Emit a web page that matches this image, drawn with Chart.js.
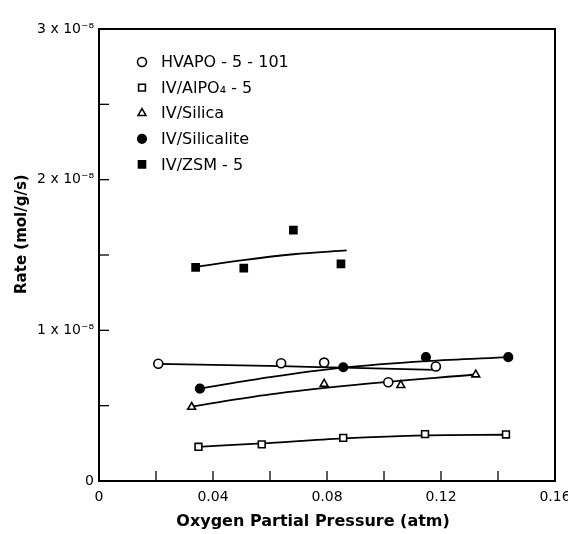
<!DOCTYPE html>
<html>
<head>
<meta charset="utf-8">
<script src="https://cdn.jsdelivr.net/npm/chart.js@4.4.1/dist/chart.umd.min.js"></script>
<style>
  html, body { margin: 0; padding: 0; background: #fff; }
  #wrap { width: 568px; height: 534px; }
</style>
</head>
<body>
<div id="wrap"><canvas id="c" width="568" height="534"></canvas></div>
<script>
// ---- data (rate in units of 10^-8 mol/g/s, pressure in atm) ----
const seriesNames = ['HVAPO - 5 - 101', 'IV/AlPO\u2084 - 5', 'IV/Silica', 'IV/Silicalite', 'IV/ZSM - 5'];

const hvapoX = [0.0208, 0.0639, 0.079, 0.1015, 0.1182];
const hvapoY = [0.778, 0.782, 0.786, 0.655, 0.760];
const alpoX = [0.0349, 0.0571, 0.0857, 0.1144, 0.1428];
const alpoY = [0.227, 0.243, 0.286, 0.311, 0.309];
const silicaX = [0.0325, 0.079, 0.1059, 0.1322];
const silicaY = [0.491, 0.644, 0.636, 0.706];
const silicaliteX = [0.0354, 0.0857, 0.1147, 0.1436];
const silicaliteY = [0.613, 0.755, 0.822, 0.822];
const zsmX = [0.0339, 0.0508, 0.0682, 0.0849];
const zsmY = [1.418, 1.413, 1.665, 1.441];

// hand-drawn trend curves
const hvapoFitX = [0.0208, 0.064, 0.0857, 0.118];
const hvapoFitY = [0.778, 0.762, 0.752, 0.738];
const alpoFitX = [0.0349, 0.0571, 0.0857, 0.1144, 0.1428];
const alpoFitY = [0.227, 0.250, 0.283, 0.303, 0.307];
const silicaFitX = [0.0325, 0.06, 0.09, 0.132];
const silicaFitY = [0.495, 0.575, 0.638, 0.707];
const silicaliteFitX = [0.0354, 0.06, 0.0857, 0.115, 0.1436];
const silicaliteFitY = [0.613, 0.689, 0.752, 0.795, 0.822];
const zsmFitX = [0.0339, 0.0506, 0.0682, 0.0869];
const zsmFitY = [1.421, 1.466, 1.505, 1.531];

const xTickLabels = ['0', '0.04', '0.08', '0.12', '0.16'];
const yTickLabels = ['0', '1 x 10\u207B\u2078', '2 x 10\u207B\u2078', '3 x 10\u207B\u2078'];

// ---- helpers ----
const pts = (xs, ys) => xs.map((x, i) => ({ x: x, y: ys[i] }));
const FONT = "'DejaVu Sans', sans-serif";

function markerSet(label, xs, ys, style, filled, radius) {
  return {
    type: 'scatter', label: label, data: pts(xs, ys), showLine: false,
    pointStyle: style, pointRadius: radius, pointHoverRadius: radius,
    backgroundColor: filled ? '#000' : '#fff', borderColor: '#000',
    pointBorderWidth: 1.6, order: 0, isLegend: true
  };
}
function fitSet(xs, ys) {
  return {
    type: 'line', data: pts(xs, ys), showLine: true, pointRadius: 0,
    borderColor: '#000', borderWidth: 1.8, fill: false,
    cubicInterpolationMode: 'monotone', order: 1, isLegend: false
  };
}

const datasets = [
  markerSet(seriesNames[0], hvapoX, hvapoY, 'circle', false, 4.5),
  markerSet(seriesNames[1], alpoX, alpoY, 'rect', false, 4.8),
  markerSet(seriesNames[2], silicaX, silicaY, 'triangle', false, 4.5),
  markerSet(seriesNames[3], silicaliteX, silicaliteY, 'circle', true, 4.3),
  markerSet(seriesNames[4], zsmX, zsmY, 'rect', true, 5),
  fitSet(hvapoFitX, hvapoFitY),
  fitSet(alpoFitX, alpoFitY),
  fitSet(silicaFitX, silicaFitY),
  fitSet(silicaliteFitX, silicaliteFitY),
  fitSet(zsmFitX, zsmFitY)
];

// frame, inward ticks and in-plot legend
const framePlugin = {
  id: 'frame',
  afterDraw(chart) {
    const ctx = chart.ctx, a = chart.chartArea;
    ctx.save();
    ctx.strokeStyle = '#000';
    ctx.lineWidth = 2;
    ctx.strokeRect(a.left, a.top, a.right - a.left, a.bottom - a.top);
    ctx.lineWidth = 1.3;
    const xs = chart.scales.x, ys = chart.scales.y;
    xs.ticks.forEach(t => {
      const p = xs.getPixelForValue(t.value);
      if (p <= a.left + 1 || p >= a.right - 1) return;
      ctx.beginPath(); ctx.moveTo(p, a.bottom); ctx.lineTo(p, a.bottom - 10); ctx.stroke();
    });
    ys.ticks.forEach(t => {
      const p = ys.getPixelForValue(t.value);
      if (p >= a.bottom - 1 || p <= a.top + 1) return;
      ctx.beginPath(); ctx.moveTo(a.left, p); ctx.lineTo(a.left + 10, p); ctx.stroke();
    });
    // legend
    let i = 0;
    chart.data.datasets.forEach(ds => {
      if (!ds.isLegend) return;
      const y = a.top + 33 + i * 25.6;
      const x = a.left + 43;
      ctx.fillStyle = ds.backgroundColor;
      ctx.strokeStyle = '#000';
      ctx.lineWidth = 1.6;
      Chart.helpers.drawPoint(ctx, { pointStyle: ds.pointStyle, radius: ds.pointRadius, rotation: 0, borderWidth: 1.6 }, x, y);
      ctx.fillStyle = '#000';
      ctx.font = '16px ' + FONT;
      ctx.textBaseline = 'middle';
      ctx.textAlign = 'left';
      ctx.fillText(ds.label, a.left + 62, y + 1);
      i++;
    });
    ctx.restore();
  }
};

new Chart(document.getElementById('c'), {
  data: { datasets: datasets },
  options: {
    responsive: false,
    animation: false,
    events: [],
    layout: { padding: { left: 0, right: 13, top: 29, bottom: 0 } },
    plugins: { legend: { display: false }, tooltip: { enabled: false } },
    scales: {
      x: {
        type: 'linear', min: 0, max: 0.16,
        afterFit(s) { s.height = 53; s.paddingRight = 0; s.paddingLeft = 0; },
        grid: { drawOnChartArea: false, drawTicks: false },
        border: { display: false },
        ticks: {
          stepSize: 0.02, padding: 8, color: '#000',
          font: { family: FONT, size: 14 },
          maxRotation: 0, autoSkip: false,
          callback(v) {
            const k = v / 0.04;
            return Math.abs(k - Math.round(k)) < 1e-6 ? xTickLabels[Math.round(k)] : '';
          }
        },
        title: {
          display: true, text: 'Oxygen Partial Pressure (atm)     ', color: '#000',
          font: { family: FONT, size: 16, weight: 'bold' },
          padding: { top: 0, bottom: 3 }
        }
      },
      y: {
        type: 'linear', min: 0, max: 3,
        afterFit(s) { s.width = 99; s.paddingTop = 0; s.paddingBottom = 0; },
        grid: { drawOnChartArea: false, drawTicks: false },
        border: { display: false },
        ticks: {
          stepSize: 0.5, padding: 5, color: '#000',
          font: { family: FONT, size: 14 },
          autoSkip: false,
          callback(v) {
            return Math.abs(v - Math.round(v)) < 1e-6 ? yTickLabels[Math.round(v)] : '';
          }
        },
        title: {
          display: true, text: '        Rate (mol/g/s)', color: '#000',
          font: { family: FONT, size: 15, weight: 'bold' },
          padding: { top: 13, bottom: 0 }
        }
      }
    }
  },
  plugins: [framePlugin]
});
</script>
</body>
</html>
